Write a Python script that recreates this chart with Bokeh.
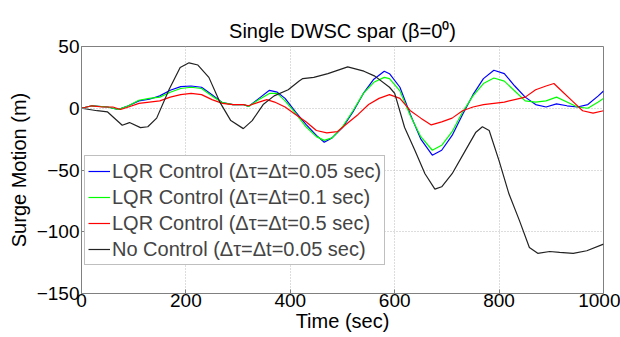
from bokeh.plotting import figure
from bokeh.embed import file_html
from bokeh.resources import INLINE
from bokeh.models import Legend, LegendItem, FixedTicker, Range1d

# ---- data ----
t_blue = [0, 10, 20, 50, 70, 90, 110, 130, 150, 170, 190, 210, 230, 250, 270, 290, 310, 320, 340, 360, 375, 390,
          410, 430, 450, 465, 480, 500, 520, 540, 560, 580, 590, 610, 630, 650, 672, 690, 710, 730, 750, 770, 790,
          810, 830, 850, 870, 890, 910, 930, 950, 970, 990, 1000]
v_blue = [0, 1, 2, 1, -1, 2, 6, 7.3, 10, 14.6, 17.5, 18, 17, 11, 4.5, 3, 3, 1.5, 8, 14.5, 13, 8,
          -3, -13, -22, -27.5, -24, -15.7, -3, 12, 23.5, 30, 28, 17, -5, -25, -38, -34, -22, -5, 11, 24, 30.8,
          28, 18, 9, 3, 1, 3.5, 2, 1, 3, 10, 14]

t_green = t_blue
v_green = [0, 1, 2, 1, -1, 2, 6.5, 8, 9, 13, 16, 17, 16, 10, 4.5, 3, 3, 1.5, 7, 12, 12, 6,
           -4, -15, -23, -26, -24, -15, -2, 12, 21, 25, 24, 14, -6, -23, -34, -30, -19, -3, 10, 20, 24.5,
           22, 14, 6, 5, 6, 9, 5, 1, 0, 5, 8]

t_red = [0, 20, 40, 60, 75, 90, 110, 130, 150, 170, 190, 210, 230, 250, 270, 290, 310, 320, 340, 355, 370, 390,
         410, 430, 450, 470, 490, 510, 530, 550, 570, 590, 610, 630, 650, 670, 690, 710, 730, 750, 770, 790,
         810, 830, 850, 870, 890, 905, 920, 940, 960, 980, 1000]
v_red = [0, 2, 1, 1, -1, 1, 4, 5, 6, 9, 11, 12, 11, 7, 4, 3, 3, 2, 5, 7, 5, 1,
         -5, -11, -18, -20, -19, -12, -5, 3, 8, 11, 8, -2, -8, -13.5, -11, -8, -2, 1, 3, 4,
         5, 7, 9, 15, 18, 20, 14, 6, -2, -4, -2]

t_black = [0, 30, 50, 78, 92, 113, 127, 144, 168, 189, 206, 223, 244, 265, 286, 310, 327, 348, 369, 396, 417,
           424, 445, 472, 510, 541, 562, 590, 600, 619, 639, 658, 677, 690, 710, 735, 755, 768, 781, 800, 819,
           839, 858, 874, 897, 916, 942, 968, 1000]
v_black = [0, -2, -3, -13.8, -11.6, -15.7, -15, -8, 15.4, 33, 36.8, 35, 25, 5, -10, -16.5, -10, 3, 10, 15, 22,
           24, 25, 28, 33.5, 30, 26, 17, 12, -15.6, -34.5, -53, -65.5, -63.6, -53, -34.5, -19.7, -15, -18, -42.6,
           -69.5, -91, -112.7, -117.5, -116, -116.7, -117.5, -115.4, -110]

labels = ["LQR Control (\u0394\u03c4=\u0394t=0.05 sec)",
          "LQR Control (\u0394\u03c4=\u0394t=0.1 sec)",
          "LQR Control (\u0394\u03c4=\u0394t=0.5 sec)",
          "No Control (\u0394\u03c4=\u0394t=0.05 sec)"]
x_ticks = [0, 200, 400, 600, 800, 1000]
y_ticks = [-150, -100, -50, 0, 50]

FONT = "Liberation Sans"

p = figure(width=620, height=337, output_backend="svg", toolbar_location=None,
           x_range=Range1d(0, 1000), y_range=Range1d(-150, 50),
           min_border_left=81, min_border_right=17, min_border_top=46, min_border_bottom=44,
           title="Single DWSC spar (\u03b2=0\u2070)")

p.title.align = "center"
p.title.text_font = FONT
p.title.text_font_size = "20px"
p.title.text_font_style = "normal"
p.title.text_color = "black"

r_b = p.line(t_blue, v_blue, line_color="#0000ff", line_width=1.2)
r_g = p.line(t_green, v_green, line_color="#00ff00", line_width=1.2)
r_r = p.line(t_red, v_red, line_color="#ff0000", line_width=1.2)
r_k = p.line(t_black, v_black, line_color="#222222", line_width=1.2)

legend = Legend(items=[LegendItem(label=labels[0], renderers=[r_b]),
                       LegendItem(label=labels[1], renderers=[r_g]),
                       LegendItem(label=labels[2], renderers=[r_r]),
                       LegendItem(label=labels[3], renderers=[r_k])],
                location=(3, 28))
legend.label_text_font = FONT
legend.label_text_font_size = "20px"
legend.label_height = 24
legend.glyph_height = 24
legend.glyph_width = 22
legend.label_standoff = 2
legend.spacing = 2
legend.padding = 3
legend.margin = 0
legend.border_line_color = "#808080"
legend.border_line_width = 1
legend.background_fill_alpha = 1
p.add_layout(legend, "center")

for ax in (p.xaxis[0], p.yaxis[0]):
    ax.major_label_text_font = FONT
    ax.major_label_text_font_size = "19px"
    ax.major_label_text_color = "black"
    ax.axis_label_text_font = FONT
    ax.axis_label_text_font_size = "20px"
    ax.axis_label_text_font_style = "normal"
    ax.axis_label_text_color = "black"
    ax.axis_line_color = "#808080"
    ax.major_tick_line_color = "#808080"
    ax.major_tick_in = 4
    ax.major_tick_out = 0
    ax.minor_tick_line_color = None

p.xaxis.ticker = FixedTicker(ticks=x_ticks)
p.yaxis.ticker = FixedTicker(ticks=y_ticks)
p.xaxis.axis_label = "Time (sec)"
p.yaxis.axis_label = "Surge Motion (m)"
p.xaxis.axis_label_standoff = 0
p.yaxis.axis_label_standoff = 4
p.xaxis.major_label_standoff = 0
p.yaxis.major_label_standoff = 2

p.grid.grid_line_color = "#bbbbbb"
p.grid.grid_line_dash = "1 2"
p.outline_line_color = "#808080"
p.outline_line_alpha = 1

open("out.html", "w").write(file_html(p, INLINE))
